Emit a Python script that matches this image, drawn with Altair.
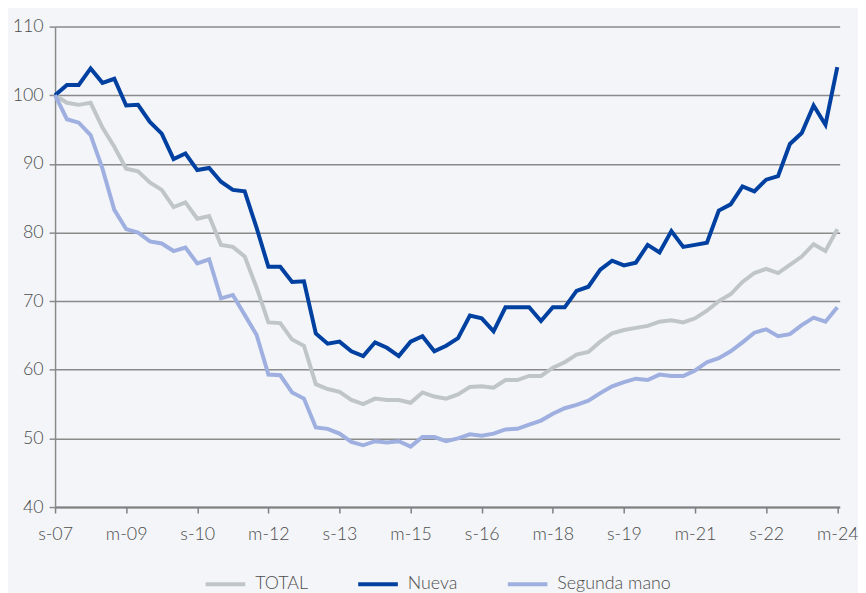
import altair as alt
import pandas as pd

series_names = ["TOTAL", "Nueva", "Segunda mano"]
series_colors = ["#c0c5c8", "#0040a0", "#9fb0e0"]

tick_labels = ["s-07", "m-09", "s-10", "m-12", "s-13", "m-15",
               "s-16", "m-18", "s-19", "m-21", "s-22", "m-24"]

total = [100, 98.9, 98.6, 98.9, 95.3, 92.5, 89.3, 88.9, 87.3, 86.2, 83.7, 84.4,
         82.0, 82.4, 78.2, 77.9, 76.5, 72.0, 66.9, 66.8, 64.4, 63.5, 57.9, 57.2,
         56.8, 55.6, 55.0, 55.8, 55.6, 55.6, 55.2, 56.7, 56.1, 55.8, 56.4, 57.5,
         57.6, 57.4, 58.5, 58.5, 59.1, 59.1, 60.3, 61.1, 62.2, 62.6, 64.1, 65.3,
         65.8, 66.1, 66.4, 67.0, 67.2, 66.9, 67.5, 68.6, 70.0, 71.0, 72.8, 74.1,
         74.7, 74.1, 75.3, 76.5, 78.3, 77.3, 80.5]

nueva = [100, 101.5, 101.5, 103.9, 101.8, 102.4, 98.5, 98.6, 96.1, 94.4, 90.7, 91.5,
         89.1, 89.4, 87.4, 86.2, 86.0, 80.7, 75.0, 75.0, 72.8, 72.9, 65.3, 63.8,
         64.1, 62.7, 62.0, 64.0, 63.2, 62.0, 64.1, 64.9, 62.7, 63.5, 64.6, 67.9,
         67.5, 65.6, 69.1, 69.1, 69.1, 67.1, 69.1, 69.1, 71.5, 72.1, 74.6, 75.9,
         75.2, 75.6, 78.2, 77.1, 80.2, 77.9, 78.2, 78.5, 83.2, 84.1, 86.7, 86.0,
         87.7, 88.2, 92.9, 94.5, 98.5, 95.7, 104.1]

segunda = [100, 96.5, 96.0, 94.2, 89.3, 83.3, 80.5, 80.0, 78.7, 78.4, 77.3, 77.8,
           75.5, 76.1, 70.4, 70.9, 68.0, 65.1, 59.3, 59.2, 56.7, 55.8, 51.6, 51.4,
           50.7, 49.5, 49.0, 49.6, 49.4, 49.6, 48.8, 50.2, 50.2, 49.6, 50.0, 50.6,
           50.4, 50.7, 51.3, 51.4, 52.0, 52.6, 53.6, 54.4, 54.9, 55.5, 56.6, 57.6,
           58.2, 58.7, 58.5, 59.3, 59.1, 59.1, 59.9, 61.1, 61.7, 62.7, 64.0, 65.4,
           65.9, 64.9, 65.2, 66.5, 67.6, 67.0, 69.1]

rows = []
for name, vals in zip(series_names, [total, nueva, segunda]):
    for i, v in enumerate(vals):
        rows.append({"q": i, "serie": name, "valor": v})
df = pd.DataFrame(rows)

label_js = "[" + ",".join("'" + t + "'" for t in tick_labels) + "]"
FONT = "Lato"
TXT = "#4d4d4d"

chart = alt.Chart(df).mark_line(strokeWidth=4).encode(
    x=alt.X("q:Q",
            scale=alt.Scale(domain=[0, 66.2], nice=False, zero=False),
            axis=alt.Axis(values=list(range(0, 67, 6)),
                          labelExpr=label_js + "[round(datum.value/6)]",
                          labelFlush=False,
                          title=None, grid=False, domain=True,
                          domainColor="#7f7f7f", domainWidth=2,
                          tickColor="#7f7f7f", tickSize=6, tickWidth=1.5,
                          labelPadding=13, labelFontSize=18, labelFont=FONT,
                          labelColor=TXT, labelFontWeight=300)),
    y=alt.Y("valor:Q",
            scale=alt.Scale(domain=[40, 110], nice=False, zero=False),
            axis=alt.Axis(values=list(range(40, 111, 10)), title=None,
                          grid=True, gridColor="#8a8a8a", gridWidth=1.5,
                          domain=True, domainColor="#8a8a8a", domainWidth=1.5,
                          tickColor="#8a8a8a", tickSize=6, tickWidth=1.5,
                          labelPadding=6, labelFontSize=18, labelFont=FONT,
                          labelColor=TXT, labelFontWeight=300)),
    color=alt.Color("serie:N",
                    scale=alt.Scale(domain=series_names, range=series_colors),
                    legend=alt.Legend(orient="none", legendX=150, legendY=541,
                                      direction="horizontal", title=None,
                                      symbolType="stroke", symbolSize=1600,
                                      symbolStrokeWidth=4, labelFontSize=18,
                                      labelFont=FONT, labelColor=TXT,
                                      labelFontWeight=300, columnPadding=42,
                                      labelOffset=8)),
    order=alt.Order("serie:N"),
).properties(
    width=792, height=485,
    autosize=alt.AutoSizeParams(type="none"),
    padding={"left": 47.5, "top": 16, "right": 18.5, "bottom": 86},
    background="#f3f5f8",
).configure_view(stroke=None)

chart.save("out.html", embed_options={"renderer": "svg", "actions": False})
